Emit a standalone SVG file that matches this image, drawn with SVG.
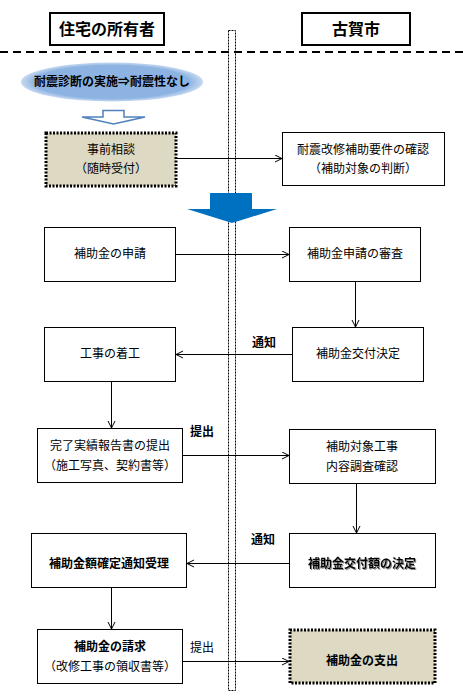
<svg xmlns="http://www.w3.org/2000/svg" width="463" height="699" viewBox="0 0 463 699">
<style>
text{font-family:"Noto Sans CJK JP","Noto Sans",sans-serif;font-size:12px;fill:#000;text-anchor:middle}
.b{font-weight:bold}
.h{font-size:16px;font-weight:bold}
.box{fill:#fff;stroke:#000;stroke-width:1}
.dot{fill:#DDD9C3;stroke:#000;stroke-width:3;stroke-dasharray:2 1.5}
.con{stroke:#000;stroke-width:1;fill:none;marker-end:url(#ah)}
</style>
<defs>
<marker id="ah" markerWidth="10" markerHeight="10" refX="8" refY="4" orient="auto" markerUnits="userSpaceOnUse">
<path d="M1,0.5 L8,4 L1,7.5" fill="none" stroke="#000" stroke-width="1"/>
</marker>
<radialGradient id="eg" cx="0.5" cy="0.5" r="0.5">
<stop offset="0.85" stop-color="#8DB3E2"/>
<stop offset="1" stop-color="#C6D9F1"/>
</radialGradient>
<filter id="sh" x="-10%" y="-30%" width="120%" height="160%">
<feDropShadow dx="1" dy="1" stdDeviation="0.5" flood-color="#888"/>
</filter>
</defs>
<g id="header-owner"><rect x="50" y="13" width="114" height="32" fill="#fff" stroke="#000" stroke-width="2"/><text class="h" x="107" y="35">住宅の所有者</text></g>
<g id="header-city"><rect x="302" y="13" width="108" height="32" fill="#fff" stroke="#000" stroke-width="2"/><text class="h" x="356" y="35">古賀市</text></g>
<line x1="0" y1="52" x2="463" y2="52" stroke="#000" stroke-width="2" stroke-dasharray="8 5"/>
<rect id="divider" x="228.5" y="30.5" width="7" height="660" fill="none" stroke="#000" stroke-width="1" stroke-dasharray="2 1"/>
<g id="diagnosis"><ellipse cx="112" cy="82" rx="91" ry="19.5" fill="url(#eg)"/><text class="b" x="112" y="86">耐震診断の実施⇒耐震性なし</text></g>
<path id="hollow-arrow" d="M103,110.5 H124 V117 H145 L113.5,124 L82,117 H103 Z" fill="#fff" stroke="#4F81BD" stroke-width="1.5"/>
<g id="n1"><rect class="dot" x="46" y="133" width="130" height="53"/><text x="111" y="154">事前相談</text><text x="111" y="173">（随時受付）</text></g>
<g id="n2"><rect class="box" x="282.5" y="132.5" width="162" height="53"/><text x="363" y="154">耐震改修補助要件の確認</text><text x="363" y="173">（補助対象の判断）</text></g>
<path id="blue-arrow" d="M210,193 H252 V209 H277 L232,223 L187,209 H210 Z" fill="#0070C0"/>
<g id="n3"><rect class="box" x="44.5" y="227.5" width="131" height="54"/><text x="110" y="258">補助金の申請</text></g>
<g id="n4"><rect class="box" x="289.5" y="227.5" width="131" height="54"/><text x="355" y="258">補助金申請の審査</text></g>
<g id="n5"><rect class="box" x="44.5" y="327.5" width="131" height="54"/><text x="110" y="358">工事の着工</text></g>
<g id="n6"><rect class="box" x="292.5" y="327.5" width="131" height="54"/><text x="358" y="358">補助金交付決定</text></g>
<g id="n7"><rect class="box" x="37.5" y="428.5" width="145" height="54"/><text x="110" y="450">完了実績報告書の提出</text><text x="110" y="470">（施工写真、契約書等）</text></g>
<g id="n8"><rect class="box" x="289.5" y="429.5" width="146" height="54"/><text x="362" y="451">補助対象工事</text><text x="362" y="471">内容調査確認</text></g>
<g id="n9"><rect class="box" x="31.5" y="533.5" width="155" height="54"/><text class="b" x="109" y="568">補助金額確定通知受理</text></g>
<g id="n10"><rect class="box" x="289.5" y="533.5" width="146" height="54"/><text class="b" x="362" y="568" filter="url(#sh)">補助金交付額の決定</text></g>
<g id="n11"><rect class="box" x="37.5" y="629.5" width="145" height="54"/><text class="b" x="110" y="651">補助金の請求</text><text x="110" y="671">（改修工事の領収書等）</text></g>
<g id="n12"><rect class="dot" x="290" y="630" width="145" height="53"/><text class="b" x="362" y="665">補助金の支出</text></g>
<g id="connectors">
<line class="con" x1="176" y1="158.5" x2="282" y2="158.5"/>
<line class="con" x1="175" y1="254.5" x2="289" y2="254.5"/>
<line class="con" x1="355.5" y1="281" x2="355.5" y2="327"/>
<line class="con" x1="292" y1="354.5" x2="176" y2="354.5"/>
<line class="con" x1="111.5" y1="381" x2="111.5" y2="428"/>
<line class="con" x1="182" y1="455.5" x2="289" y2="455.5"/>
<line class="con" x1="356.5" y1="483" x2="356.5" y2="533"/>
<line class="con" x1="289" y1="563.5" x2="187" y2="563.5"/>
<line class="con" x1="111.5" y1="587" x2="111.5" y2="629"/>
<line class="con" x1="183" y1="661.5" x2="289" y2="661.5"/>
<text class="b" x="264" y="347">通知</text>
<text class="b" x="202" y="436">提出</text>
<text class="b" x="263" y="544">通知</text>
<text x="202" y="652">提出</text>
</g>
</svg>
